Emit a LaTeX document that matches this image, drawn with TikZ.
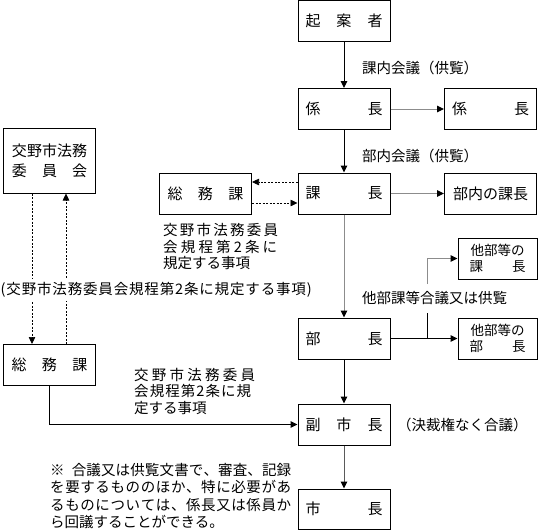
\documentclass[tikz,border=0pt]{standalone}
\usepackage{fontspec}
\setmainfont{Noto Sans CJK JP}
\usetikzlibrary{arrows.meta}
\makeatletter
\def\spreadchars#1{\spr@a#1\relax}
\def\spr@a#1{#1\futurelet\spr@next\spr@b}
\def\spr@b{\ifx\spr@next\relax\expandafter\@gobble\else\hfil\expandafter\spr@a\fi}
\makeatother
\newcommand\spreadto[2]{\makebox[#1][s]{\spreadchars{#2}}}
\definecolor{lgray}{RGB}{140,140,140}
\definecolor{dgray}{RGB}{90,90,90}
\tikzset{
 box/.style={draw, line width=1pt, minimum width=92pt, minimum height=41pt, inner sep=0pt, font=\fontsize{15}{17}\selectfont},
 sbox/.style={box, minimum width=79pt, font=\fontsize{13.5}{16}\selectfont, align=center},
 tip/.style={-{Triangle[length=7pt,width=6.5pt,color=black]}},
 arr/.style={tip, line width=1pt, draw=black},
 garr/.style={tip, line width=1pt, draw=lgray},
 dgarr/.style={tip, line width=1pt, draw=dgray},
 darr/.style={tip, line width=0.7pt, dash pattern=on 2pt off 1.5pt},
 lbl/.style={font=\fontsize{14.5}{16.5}\selectfont, inner sep=0pt, align=left, anchor=west},
}
\begin{document}
\begin{tikzpicture}[x=1pt,y=-1pt]
\useasboundingbox (0,0) rectangle (540,530);
% main column
\node[box] (A) at (344,21) {\spreadto{77pt}{起案者}};
\node[box] (B) at (344,109) {\spreadto{77pt}{係長}};
\node[box] (B2) at (490.5,109) {\spreadto{77pt}{係長}};
\node[box] (C) at (344,193.5) {\spreadto{77pt}{課長}};
\node[box] (S1) at (205.5,193.5) {\spreadto{76pt}{総務課}};
\node[box] (C2) at (490.5,193.5) {部内の課長};
\node[box, minimum height=65pt, align=center, font=\fontsize{15}{20}\selectfont] (L) at (49.5,160.5) {交野市法務\\\spreadto{75pt}{委員会}};
\node[sbox] (D1) at (497.5,258.5) {他部等の\\\spreadto{56pt}{課長}};
\node[box] (D) at (344,338.5) {\spreadto{77pt}{部長}};
\node[sbox] (D2) at (497.5,338.5) {他部等の\\\spreadto{56pt}{部長}};
\node[box] (S2) at (49.5,365) {\spreadto{76pt}{総務課}};
\node[box] (V) at (344,424.5) {\spreadto{77pt}{副市長}};
\node[box, minimum height=40pt] (M) at (344,509) {\spreadto{77pt}{市長}};

% vertical connectors
\draw[arr] (A) -- (B);
\draw[arr] (B) -- (C);
\draw[garr] (C) -- (D);
\draw[arr] (D) -- (V);
\draw[dgarr] (V) -- (M);

% horizontal connectors
\draw[garr] (B) -- (B2);
\draw[garr] (C) -- (C2);
\draw[darr] ([yshift=11.5pt]C.west) -- ([yshift=11.5pt]S1.east);
\draw[darr] ([yshift=-9.5pt]S1.east) -- ([yshift=-9.5pt]C.west);
\draw[arr] (D.east) -- (D2.west);

% branch to other departments
\coordinate (br) at (427,338.5);
\coordinate (bl) at (427,313);
\coordinate (bu) at (427,284);
\draw[line width=1pt] (br) -- (bl);
\draw[garr] (bu) |- (D1.west);

% left committee loop
\draw[darr] ([xshift=-17.5pt]L.south) -- ([xshift=-17.5pt]S2.north);
\draw[darr] ([xshift=16.5pt]S2.north) -- ([xshift=16.5pt]L.south);
\draw[arr] (S2.south) |- (V.west);

% labels
\node[lbl] (l1) at (362,68) {課内会議（供覧）};
\node[lbl] (l2) at (362,156) {部内会議（供覧）};
\node[lbl] (l3) at (163,246.5) {\spreadto{115pt}{交野市法務委員}\\\spreadto{114pt}{会規程第2条に}\\規定する事項};
\node[lbl, fill=white, inner xsep=0pt, inner ysep=3pt] (l4) at (0.5,290) {\spreadto{311pt}{(交野市法務委員会規程第 2 条に規定する事項)}};
\node[lbl] (l5) at (362,298.5) {他部課等合議又は供覧};
\node[lbl] (l6) at (134,391) {\spreadto{121pt}{交野市法務委員}\\\spreadto{117pt}{会規程第2条に規}\\定する事項};
\node[lbl] (l7) at (397,425) {（決裁権なく合議）};
\node[lbl, font=\fontsize{14.5}{17.5}\selectfont] (note) at (50,496) {\spreadto{241pt}{{※\hspace{7pt}}合議又は供覧文書で、審査、記録}\\\spreadto{241pt}{を要するもののほか、特に必要があ}\\\spreadto{241pt}{るものについては、係長又は係員か}\\ら回議することができる。};
\end{tikzpicture}
\end{document}
